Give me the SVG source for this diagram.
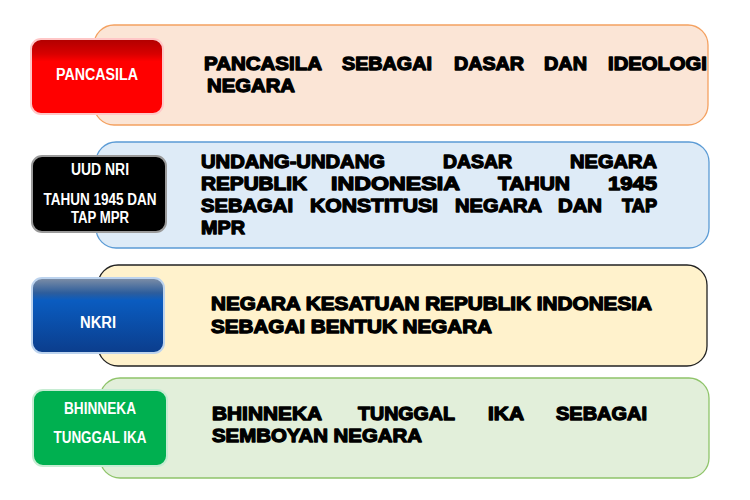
<svg xmlns="http://www.w3.org/2000/svg" width="750" height="500" viewBox="0 0 750 500">
<defs>
<linearGradient id="gRed" x1="0" y1="0" x2="0" y2="1">
<stop offset="0" stop-color="#b00000"/><stop offset="0.2" stop-color="#d80000"/><stop offset="0.3" stop-color="#ff0000"/><stop offset="1" stop-color="#ff0000"/>
</linearGradient>
<linearGradient id="gBlue" x1="0" y1="0" x2="0" y2="1">
<stop offset="0" stop-color="#7f8fa6"/><stop offset="0.2" stop-color="#2d5d9c"/><stop offset="0.3" stop-color="#0a5cc0"/><stop offset="1" stop-color="#0b3d8c"/>
</linearGradient>
</defs>
<style>
.box{stroke-width:1.3}
.badge{stroke-width:2}
.t{font-family:"Liberation Sans",Arial,sans-serif;font-weight:bold;font-size:19px;fill:#000;stroke:#000;stroke-width:1.3;stroke-linejoin:round}
.w{font-family:"Liberation Sans",Arial,sans-serif;font-weight:bold;font-size:16px;fill:#fff;text-anchor:middle}
</style>
<g id="node-pancasila">
<rect class="box" x="94" y="25" width="614" height="100" rx="20" fill="#fbe5d6" stroke="#f4a160"/>
<rect class="badge" x="31" y="39" width="132" height="75" rx="10" fill="url(#gRed)" stroke="#ffc7c7"/>
<text class="w" x="97" y="80" textLength="82" lengthAdjust="spacingAndGlyphs">PANCASILA</text>
<text class="t" x="204" y="70" textLength="118" lengthAdjust="spacingAndGlyphs">PANCASILA</text>
<text class="t" x="342" y="70" textLength="90" lengthAdjust="spacingAndGlyphs">SEBAGAI</text>
<text class="t" x="454" y="70" textLength="70" lengthAdjust="spacingAndGlyphs">DASAR</text>
<text class="t" x="544" y="70" textLength="43" lengthAdjust="spacingAndGlyphs">DAN</text>
<text class="t" x="608" y="70" textLength="99" lengthAdjust="spacingAndGlyphs">IDEOLOGI</text>
<text class="t" x="207" y="92" textLength="88" lengthAdjust="spacingAndGlyphs">NEGARA</text>
</g>
<g id="node-uud">
<rect class="box" x="96" y="142" width="613" height="106" rx="20" fill="#deebf7" stroke="#5b9bd5"/>
<rect class="badge" x="32" y="156" width="134" height="76" rx="10" fill="#000" stroke="#9a9a9a"/>
<text class="w" x="100" y="175" textLength="58" lengthAdjust="spacingAndGlyphs">UUD NRI</text>
<text class="w" x="100" y="205" textLength="113" lengthAdjust="spacingAndGlyphs">TAHUN 1945 DAN</text>
<text class="w" x="100" y="223" textLength="58" lengthAdjust="spacingAndGlyphs">TAP MPR</text>
<text class="t" x="201" y="168" textLength="184" lengthAdjust="spacingAndGlyphs">UNDANG-UNDANG</text>
<text class="t" x="443" y="168" textLength="69" lengthAdjust="spacingAndGlyphs">DASAR</text>
<text class="t" x="570" y="168" textLength="87" lengthAdjust="spacingAndGlyphs">NEGARA</text>
<text class="t" x="201" y="190" textLength="106" lengthAdjust="spacingAndGlyphs">REPUBLIK</text>
<text class="t" x="331" y="190" textLength="129" lengthAdjust="spacingAndGlyphs">INDONESIA</text>
<text class="t" x="498" y="190" textLength="72" lengthAdjust="spacingAndGlyphs">TAHUN</text>
<text class="t" x="608" y="190" textLength="49" lengthAdjust="spacingAndGlyphs">1945</text>
<text class="t" x="201" y="212" textLength="92" lengthAdjust="spacingAndGlyphs">SEBAGAI</text>
<text class="t" x="310" y="212" textLength="128" lengthAdjust="spacingAndGlyphs">KONSTITUSI</text>
<text class="t" x="455" y="212" textLength="87" lengthAdjust="spacingAndGlyphs">NEGARA</text>
<text class="t" x="558" y="212" textLength="44" lengthAdjust="spacingAndGlyphs">DAN</text>
<text class="t" x="622" y="212" textLength="35" lengthAdjust="spacingAndGlyphs">TAP</text>
<text class="t" x="201" y="234" textLength="44" lengthAdjust="spacingAndGlyphs">MPR</text>
</g>
<g id="node-nkri">
<rect class="box" x="98" y="265" width="609" height="101" rx="20" fill="#fff2cc" stroke="#222"/>
<rect class="badge" x="32" y="278" width="132" height="75" rx="10" fill="url(#gBlue)" stroke="#bcd3ee"/>
<text class="w" x="98" y="328" textLength="36" lengthAdjust="spacingAndGlyphs">NKRI</text>
<text class="t" x="211" y="310" textLength="441" lengthAdjust="spacingAndGlyphs">NEGARA KESATUAN REPUBLIK INDONESIA</text>
<text class="t" x="211" y="333" textLength="281" lengthAdjust="spacingAndGlyphs">SEBAGAI BENTUK NEGARA</text>
</g>
<g id="node-bhinneka">
<rect class="box" x="100" y="378" width="609" height="100" rx="20" fill="#e2efda" stroke="#8fc46a"/>
<rect class="badge" x="33" y="390" width="134" height="76" rx="10" fill="#00b050" stroke="#c6ecd2"/>
<text class="w" x="100" y="414" textLength="72" lengthAdjust="spacingAndGlyphs">BHINNEKA</text>
<text class="w" x="100" y="443" textLength="93" lengthAdjust="spacingAndGlyphs">TUNGGAL IKA</text>
<text class="t" x="212" y="420" textLength="110" lengthAdjust="spacingAndGlyphs">BHINNEKA</text>
<text class="t" x="358" y="420" textLength="97" lengthAdjust="spacingAndGlyphs">TUNGGAL</text>
<text class="t" x="488" y="420" textLength="36" lengthAdjust="spacingAndGlyphs">IKA</text>
<text class="t" x="556" y="420" textLength="91" lengthAdjust="spacingAndGlyphs">SEBAGAI</text>
<text class="t" x="212" y="442" textLength="210" lengthAdjust="spacingAndGlyphs">SEMBOYAN NEGARA</text>
</g>
<g id="connectors"/>
</svg>
